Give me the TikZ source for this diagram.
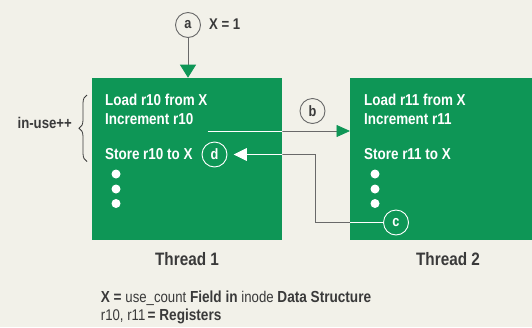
\documentclass[tikz,border=0pt]{standalone}
\usepackage{fontspec}
\setmainfont{Liberation Sans}[FakeStretch=0.85]
\usetikzlibrary{arrows.meta,decorations.pathreplacing}
\definecolor{bgc}{RGB}{242,241,233}
\definecolor{hpgreen}{RGB}{14,150,86}
\definecolor{ink}{RGB}{58,58,58}
\definecolor{wirec}{RGB}{105,105,105}
\newcommand\legbig{\bfseries\fontsize{16}{18}\selectfont}
\newcommand\legsmall{\mdseries\fontsize{15.5}{18}\selectfont}
\tikzset{
  thread/.style={fill=hpgreen, draw=none, inner sep=0pt, anchor=north west},
  intext/.style={text=white, font=\bfseries\fontsize{15.8}{18}\selectfont, anchor=base west, inner sep=0pt},
  wdot/.style={circle, fill=white, minimum size=9pt, inner sep=0pt},
  tag/.style={circle, draw=wirec, line width=0.9pt, minimum size=25pt, inner sep=0pt, text=ink, font=\bfseries\fontsize{15}{15}\selectfont},
  wtag/.style={tag, draw=white, text=white},
  tlabel/.style={text=ink, font=\bfseries\fontsize{18}{20}\selectfont, anchor=base, inner sep=0pt},
  plain/.style={text=ink, font=\bfseries\fontsize{15.5}{18}\selectfont, inner sep=0pt},
  wire/.style={draw=wirec, line width=0.8pt},
  wline/.style={draw=white, line width=0.8pt},
}
\begin{document}
\begin{tikzpicture}[x=1pt,y=-1pt]
\useasboundingbox (0,0) rectangle (532,327);
\fill[bgc] (0,0) rectangle (532,327);
% thread boxes
\node[thread, minimum width=190.4pt, minimum height=162.3pt] (t1) at (91.6,77.7) {};
\node[thread, minimum width=183pt, minimum height=162.3pt] (t2) at (350,77.7) {};
% thread 1 text
\node[intext] (l1) at (105,105.5) {Load r10 from X};
\node[intext] (i1) at (105,124) {Increment r10};
\node[intext] (s1) at (105,159.5) {Store r10 to X};
\node[wdot] (p1a) at (116,174) {};
\node[wdot] (p1b) at (116,189) {};
\node[wdot] (p1c) at (116,203.5) {};
% thread 2 text
\node[intext] (l2) at (364,105.5) {Load r11 from X};
\node[intext] (i2) at (364,124) {Increment r11};
\node[intext] (s2) at (364,159.5) {Store r11 to X};
\node[wdot] (p2a) at (375,174) {};
\node[wdot] (p2b) at (375,189) {};
\node[wdot] (p2c) at (375,203.5) {};
% tags
\node[tag] (a) at (188,25) {a};
\node[plain, anchor=base west] (x1) at (209,29.5) {X = 1};
\node[tag] (b) at (312.5,111) {b};
\node[wtag] (d) at (214.5,154.5) {d};
\node[wtag] (c) at (396,222.5) {c};
% arrow a
\draw[wire, -{Triangle[length=13pt,width=16pt,color=hpgreen]}] (a) -- (a |- t1.north);
% arrow b
\coordinate (bs) at (207.7,131);
\draw[wire, -{Triangle[length=13.5pt,width=12pt,color=hpgreen]}] (bs) -- (bs -| t2.west);
\begin{scope}
  \clip (t1.north west) rectangle (t1.south east);
  \draw[wline] (bs) -- (bs -| t2.west);
\end{scope}
% connector c -> d
\coordinate (vx) at (315.6,0);
\draw[wire, shorten >=6.5pt, -{Triangle[length=13pt,width=12.5pt,color=white]}] (c.west) -| (vx |- d.east) -- (d.east);
\begin{scope}
  \clip (t1.north west) rectangle (t1.south east) (t2.north west) rectangle (t2.south east);
  \draw[wline, shorten >=6.5pt, -{Triangle[length=13pt,width=12.5pt,color=white]}] (c.west) -| (vx |- d.east) -- (d.east);
\end{scope}
% brace and in-use++
\coordinate (br1) at (87,161.5);
\coordinate (br2) at (87,95);
\draw[draw=ink, line width=0.8pt, decorate, decoration={brace, amplitude=8pt}] (br1) -- (br2);
\node[plain, anchor=base east] (iu) at (72,128) {in-use++};
% thread labels
\node[tlabel] (th1) at (187,265.5) {Thread 1};
\node[tlabel] (th2) at (448,265.5) {Thread 2};
% legend
\node[anchor=base west, text=ink, inner sep=0pt] (leg1) at (100.7,302.5)
  {\legbig X = {\legsmall use\_count} Field in {\legsmall inode} Data Structure};
\node[anchor=base west, text=ink, inner sep=0pt] (leg2) at (100.7,320)
  {{\legsmall r10, r11} {\legbig = Registers}};
\end{tikzpicture}
\end{document}
